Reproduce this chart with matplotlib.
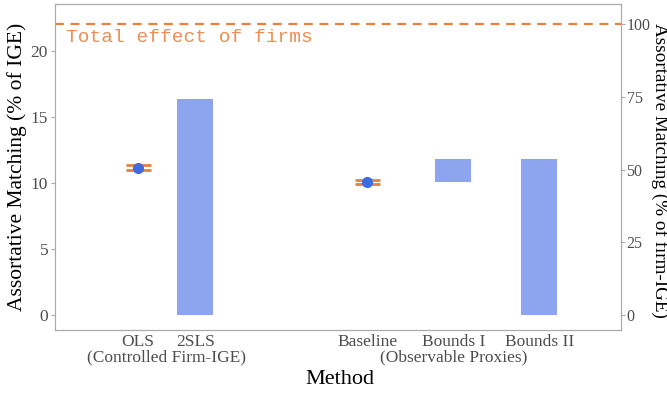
import matplotlib
matplotlib.use("Agg")
import matplotlib.pyplot as plt
import matplotlib.transforms as mtransforms

# estimates, % of IGE
methods = ["OLS", "2SLS", "Baseline", "Bounds I", "Bounds II"]
xpos = [1.33, 2, 4, 5, 6]
groups = ["(Controlled Firm-IGE)", "(Observable Proxies)"]
group_x = [1.665, 5]

point_methods = ["OLS", "Baseline"]
point_vals = [11.18, 10.12]
point_err = [0.17, 0.15]

bar_methods = ["2SLS", "Bounds I", "Bounds II"]
bar_low = [0.0, 10.12, 0.0]
bar_high = [16.38, 11.85, 11.85]

total_effect = 22.05
right_ticks = [0, 25, 50, 75, 100]

orange = "#E8803F"
blue = "#3E6BE3"
barblue = "#8DA5EE"
grey = "#4D4D4D"

plt.rcParams["font.family"] = ["Liberation Serif", "DejaVu Serif"]

fig = plt.figure(figsize=(6.67, 3.94), dpi=100)
ax = fig.add_axes([0.0825, 0.1624, 0.8485, 0.8274])

pos = dict(zip(methods, xpos))

for m, lo, hi in zip(bar_methods, bar_low, bar_high):
    ax.bar(pos[m], hi - lo, bottom=lo, width=0.42, color=barblue, zorder=2)

ax.errorbar([pos[m] for m in point_methods], point_vals, yerr=point_err,
            fmt="o", color=blue, ms=7, ecolor=orange, elinewidth=0,
            capsize=9, capthick=2, zorder=3)

ax.axhline(total_effect, color=orange, ls=(0, (4, 3)), lw=1.6, zorder=1)
ax.text(0.5, total_effect - 0.35, "Total effect of firms", family="Liberation Mono",
        fontsize=14, color="#EC8E55", ha="left", va="top")

ax.set_xlim(0.37, 6.95)
ax.set_ylim(-1.14, 23.6)
ax.set_xticks(xpos)
ax.set_xticklabels(methods)
ax.set_yticks([0, 5, 10, 15, 20])

trans = mtransforms.blended_transform_factory(ax.transData, ax.transAxes)
for g, gx in zip(groups, group_x):
    ax.text(gx, -0.058, g, transform=trans, ha="center", va="top",
            fontsize=12.5, color=grey)

fig.text(340 / 667, 1 - 380 / 394, "Method", fontsize=16, ha="center", va="center")
ax.set_ylabel("Assortative Matching (% of IGE)", fontsize=15.5, labelpad=3)

ax2 = ax.twinx()
ax2.set_ylim(ax.get_ylim()[0] * 100 / total_effect, ax.get_ylim()[1] * 100 / total_effect)
ax2.set_yticks(right_ticks)
fig.text(659.5 / 667, 1 - 170 / 394, "Assortative Matching (% of firm-IGE)",
         fontsize=13.8, rotation=270, ha="center", va="center")

for a in (ax, ax2):
    for s in a.spines.values():
        s.set_color("#AAAAAA")
    a.tick_params(colors="#AAAAAA", labelcolor=grey, labelsize=12.5, length=3, pad=2)
ax.tick_params(axis="x", length=0, pad=3)
ax2.tick_params(labelsize=11.5, pad=1)

fig.savefig("out.png", dpi=100)
